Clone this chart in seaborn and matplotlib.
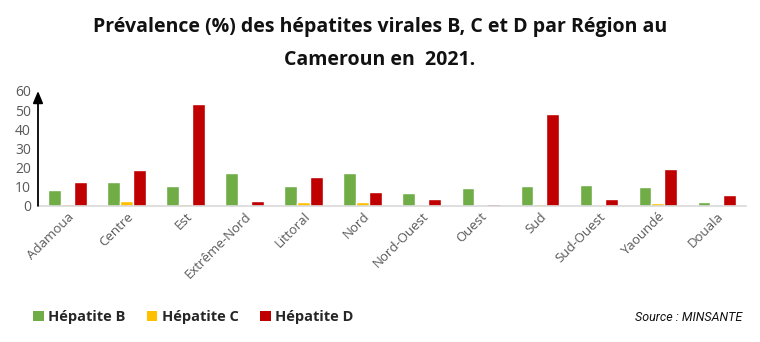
import matplotlib
matplotlib.use("Agg")
import matplotlib.pyplot as plt
import seaborn as sns
import pandas as pd
from matplotlib.patches import Patch

regions = ["Adamoua", "Centre", "Est", "Extrême-Nord", "Littoral", "Nord",
           "Nord-Ouest", "Ouest", "Sud", "Sud-Ouest", "Yaoundé", "Douala"]
hep_b = [8.1, 12.4, 10.5, 17.4, 10.5, 17.4, 6.9, 9.1, 10.5, 10.9, 10.0, 1.9]
hep_c = [1.0, 2.6, 0.9, 0.4, 1.9, 2.1, 0.3, 0.3, 1.0, 0.3, 1.7, 0.3]
hep_d = [12.4, 18.6, 53.3, 2.8, 15.0, 7.2, 3.4, 1.0, 48.1, 3.6, 19.0, 5.9]
series = ["Hépatite B", "Hépatite C", "Hépatite D"]
colors = ["#70AD47", "#FFC000", "#C00000"]
yticks = [0, 10, 20, 30, 40, 50, 60]

df = pd.DataFrame({
    "Région": regions * 3,
    "Série": [series[0]] * 12 + [series[1]] * 12 + [series[2]] * 12,
    "Valeur": hep_b + hep_c + hep_d,
})

sns.set_theme(style="white")
plt.rcParams["font.family"] = ["Open Sans", "DejaVu Sans"]

fig = plt.figure(figsize=(7.6, 3.42), dpi=100)
ax = fig.add_axes([0.05, 0.398, 0.932, 0.336])

sns.barplot(data=df, x="Région", y="Valeur", hue="Série", palette=colors,
            width=0.65, gap=0, ax=ax, legend=False, saturation=1)

ax.set_ylim(0, 60)
ax.set_xlim(-0.5, len(regions) - 0.5)
ax.set_yticks(yticks)
ax.set_yticklabels([str(t) for t in yticks], color="#595959", fontsize=10)
ax.set_xlabel("")
ax.set_ylabel("")
ax.tick_params(axis="x", length=0, pad=3)
ax.tick_params(axis="y", length=3, width=1, color="black", pad=2)
for lbl in ax.get_xticklabels():
    lbl.set_rotation(45)
    lbl.set_ha("right")
    lbl.set_rotation_mode("anchor")
    lbl.set_color("#595959")
    lbl.set_fontsize(9.5)

for s in ["top", "right"]:
    ax.spines[s].set_visible(False)
ax.spines["bottom"].set_color("#D9D9D9")
ax.spines["bottom"].set_linewidth(1.2)
ax.spines["left"].set_visible(False)
ax.annotate("", xy=(0, 1.0), xytext=(0, 0), xycoords="axes fraction",
            arrowprops=dict(arrowstyle="-|>,head_length=0.6,head_width=0.25",
                            color="black", lw=1.3, shrinkA=0, shrinkB=0))

fig.text(0.5, 0.921, "Prévalence (%) des hépatites virales B, C et D par Région au",
         ha="center", va="center", fontsize=14, fontweight="bold", color="#111111")
fig.text(0.5, 0.826, "Cameroun en  2021.",
         ha="center", va="center", fontsize=14, fontweight="bold", color="#111111")

handles = [Patch(facecolor=c, edgecolor="none", label=s) for c, s in zip(colors, series)]
fig.legend(handles=handles, loc="center left", bbox_to_anchor=(0.043, 0.073),
           ncol=3, frameon=False, handlelength=0.75, handleheight=0.75,
           handletextpad=0.3, columnspacing=1.45, borderpad=0, borderaxespad=0,
           prop={"family": "Open Sans", "weight": "bold", "size": 10.5})

fig.text(0.977, 0.073, "Source : MINSANTE", ha="right", va="center",
         fontsize=9, style="italic", family="Roboto", color="#111111")

fig.savefig("out.png", dpi=100)
